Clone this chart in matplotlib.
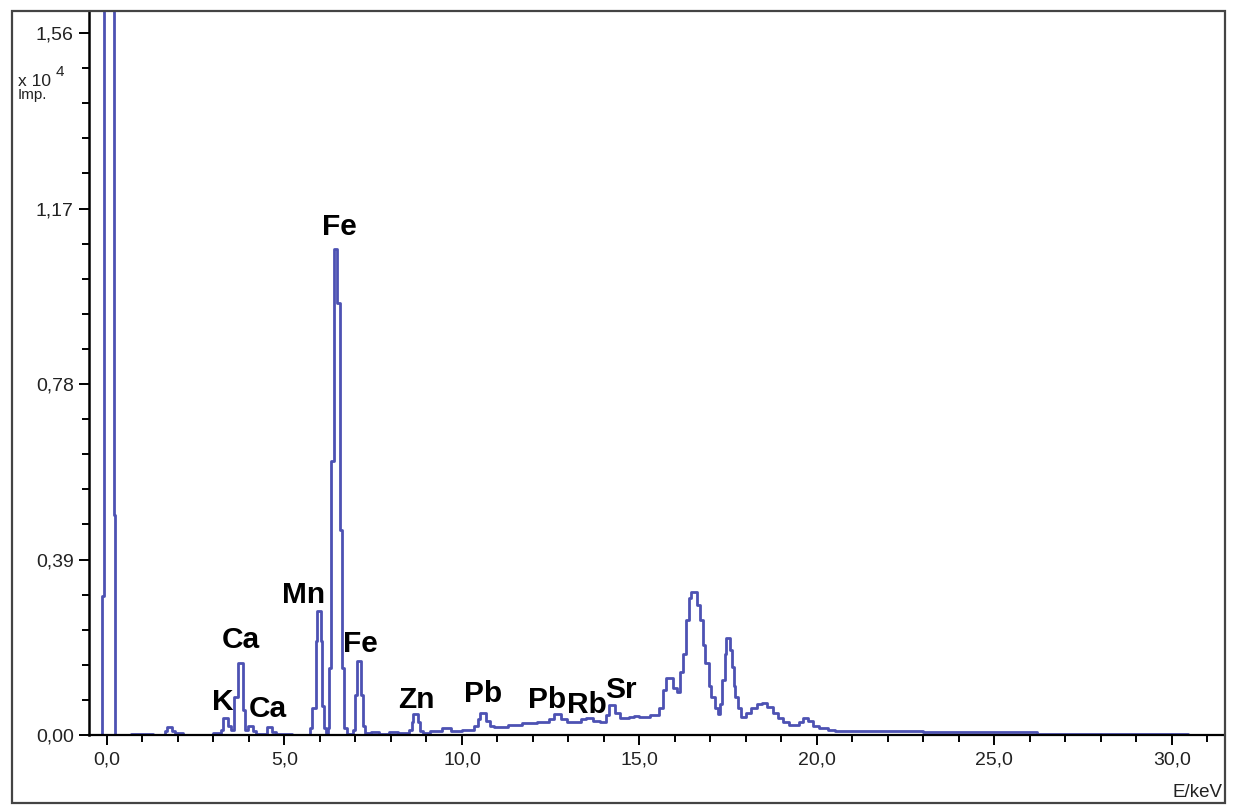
import matplotlib
matplotlib.use("Agg")
import matplotlib.pyplot as plt
from matplotlib.patches import Rectangle
from matplotlib.ticker import FixedLocator, MultipleLocator, FuncFormatter

# ---- data (energy left edge in keV, counts in 1e4 Imp.) ----
energy = [-0.5, -0.13, -0.09, 0.20, 0.23, 0.68, 1.30, 1.62, 1.70, 1.84, 1.92, 2.15,
          3.00, 3.20, 3.28, 3.42, 3.50, 3.58, 3.68, 3.83, 3.90, 3.98, 4.12, 4.20,
          4.50, 4.66, 4.75, 5.20,
          5.72, 5.78, 5.88, 5.93, 6.02, 6.07, 6.11, 6.18,
          6.22, 6.26, 6.31, 6.40, 6.49, 6.56, 6.62, 6.68, 6.76,
          6.92, 6.98, 7.04, 7.15, 7.21, 7.28, 7.45, 7.65, 7.95, 8.20,
          8.50, 8.58, 8.63, 8.75, 8.82, 8.90, 9.10, 9.45, 9.70, 10.00,
          10.35, 10.45, 10.52, 10.68, 10.78, 10.90, 11.30, 11.70, 12.10, 12.45,
          12.58, 12.80, 12.95, 13.35, 13.50, 13.70, 13.90, 14.05, 14.15, 14.32,
          14.45, 14.70, 14.85, 15.00, 15.30, 15.55, 15.65, 15.75, 15.95, 16.05,
          16.15, 16.22, 16.30, 16.40, 16.45, 16.62, 16.70, 16.78, 16.85, 16.95,
          17.03, 17.12, 17.20, 17.28, 17.33, 17.40, 17.45, 17.55, 17.60, 17.65,
          17.70, 17.78, 17.85, 18.00, 18.15, 18.30, 18.45, 18.60, 18.75, 18.90,
          19.05, 19.20, 19.50, 19.60, 19.75, 19.90, 20.05, 20.30, 20.50, 23.00,
          26.20, 30.45]
counts = [0.0, 0.31, 4.0, 0.49, 0.0, 0.003, 0.0, 0.010, 0.018, 0.010, 0.004, 0.0,
          0.004, 0.012, 0.037, 0.020, 0.012, 0.085, 0.159, 0.056, 0.012, 0.021, 0.008, 0.003,
          0.018, 0.006, 0.002, 0.0,
          0.015, 0.060, 0.210, 0.275, 0.210, 0.065, 0.015, 0.004,
          0.016, 0.150, 0.610, 1.080, 0.960, 0.455, 0.150, 0.016, 0.003,
          0.012, 0.090, 0.165, 0.090, 0.020, 0.004, 0.006, 0.003, 0.006, 0.004,
          0.012, 0.030, 0.047, 0.030, 0.010, 0.004, 0.008, 0.016, 0.010, 0.012,
          0.020, 0.035, 0.049, 0.032, 0.020, 0.018, 0.022, 0.026, 0.030, 0.035,
          0.046, 0.035, 0.030, 0.036, 0.038, 0.032, 0.030, 0.045, 0.066, 0.050,
          0.037, 0.040, 0.043, 0.040, 0.044, 0.060, 0.100, 0.127, 0.105, 0.095,
          0.140, 0.180, 0.255, 0.305, 0.317, 0.290, 0.255, 0.200, 0.159, 0.110,
          0.085, 0.060, 0.047, 0.070, 0.122, 0.180, 0.216, 0.190, 0.152, 0.110,
          0.085, 0.060, 0.040, 0.048, 0.060, 0.070, 0.071, 0.062, 0.050, 0.038,
          0.030, 0.022, 0.028, 0.038, 0.032, 0.020, 0.016, 0.012, 0.009, 0.007,
          0.002, 0.0]

peak_labels = ["Fe", "Mn", "Ca", "Fe", "K", "Ca", "Zn", "Pb", "Pb", "Rb", "Sr"]
label_E = [6.54, 5.55, 3.76, 7.15, 3.27, 4.52, 8.72, 10.59, 12.41, 13.52, 14.49]
label_I = [1.111, 0.293, 0.193, 0.184, 0.056, 0.041, 0.060, 0.073, 0.060, 0.049, 0.082]

y_ticks = [0.00, 0.39, 0.78, 1.17, 1.56]
x_ticks = [0, 5, 10, 15, 20, 25, 30]

W, H = 1247, 805
fig = plt.figure(figsize=(W / 100, H / 100), dpi=100)
fig.patch.set_facecolor("white")
ax = fig.add_axes([89 / W, 1 - 735 / H, (1223 - 89) / W, (735 - 11) / H])

ax.plot(energy, counts, drawstyle="steps-post", color="#4d52b3", lw=2.0, zorder=2)

ax.set_xlim(-0.507, 31.44)
ax.set_ylim(0, 1.609)

for s in ["top", "right"]:
    ax.spines[s].set_visible(False)
ax.spines["left"].set_linewidth(1.8)
ax.spines["bottom"].set_linewidth(1.6)

ax.yaxis.set_major_locator(FixedLocator(y_ticks))
ax.yaxis.set_minor_locator(MultipleLocator(0.078))
ax.xaxis.set_major_locator(FixedLocator(x_ticks))
ax.xaxis.set_minor_locator(MultipleLocator(1.0))
ax.yaxis.set_major_formatter(FuncFormatter(lambda v, p: f"{v:.2f}".replace(".", ",")))
ax.xaxis.set_major_formatter(FuncFormatter(lambda v, p: f"{v:.1f}".replace(".", ",")))

tfont = "Liberation Sans"
ax.tick_params(axis="both", which="major", length=7, width=1.4, colors="black",
               labelsize=14, labelcolor="#222222")
ax.tick_params(axis="both", which="minor", length=5, width=1.4, colors="black")
ax.tick_params(axis="y", which="major", pad=4)
ax.tick_params(axis="x", which="major", pad=5)
for lab in ax.get_xticklabels() + ax.get_yticklabels():
    lab.set_fontfamily(tfont)

for t, e, i in zip(peak_labels, label_E, label_I):
    ax.text(e, i, t, ha="center", va="baseline", fontsize=21.5, fontweight="bold",
            fontfamily=tfont, color="black")

# axis annotations
fig.text(18 / W, 1 - 86 / H, "x 10", fontsize=12.5, fontfamily=tfont, color="#222222",
         ha="left", va="baseline")
fig.text(56 / W, 1 - 76 / H, "4", fontsize=11, fontfamily=tfont, color="#222222",
         ha="left", va="baseline")
fig.text(18 / W, 1 - 99 / H, "Imp.", fontsize=11, fontfamily=tfont, color="#222222",
         ha="left", va="baseline")
fig.text(1223 / W, 1 - 797 / H, "E/keV", fontsize=13.5, fontfamily=tfont, color="#222222",
         ha="right", va="baseline")

# outer frame
fig.add_artist(Rectangle((12 / W, 1 - 803 / H), (1225 - 12) / W, (803 - 11) / H,
                         transform=fig.transFigure, fill=False, edgecolor="#444444",
                         lw=1.6))

fig.savefig("out.png", dpi=100)
